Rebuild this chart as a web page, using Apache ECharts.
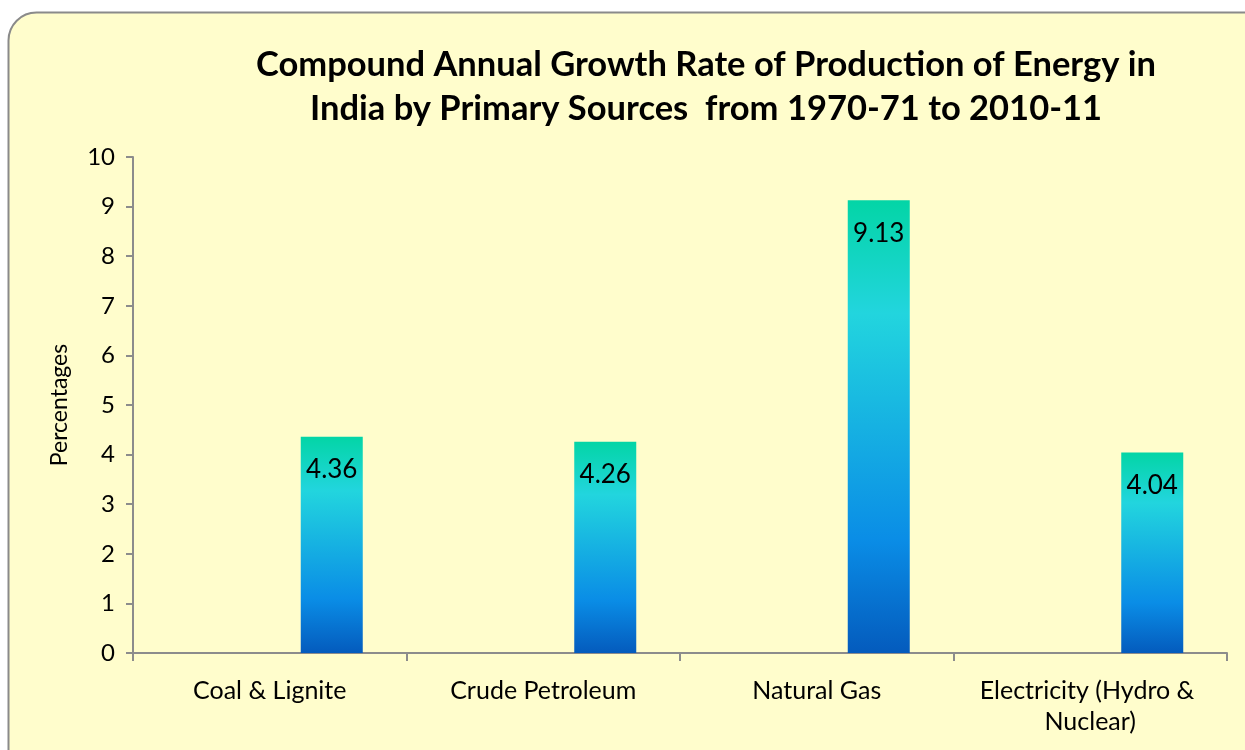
<!DOCTYPE html>
<html>
<head>
<meta charset="utf-8">
<script src="https://cdn.jsdelivr.net/npm/echarts@6/dist/echarts.min.js"></script>
<style>
  html, body { margin: 0; padding: 0; background: #fff; }
  #main { width: 1245px; height: 750px; }
</style>
</head>
<body>
<div id="main"></div>
<script>
var categories = ['Coal & Lignite', 'Crude Petroleum', 'Natural Gas', 'Electricity (Hydro & Nuclear)'];
var growthRates = [4.36, 4.26, 9.13, 4.04];
var emptySlots = [null, null, null, null];
var yTicks = { min: 0, max: 10, interval: 1 };

var chart = echarts.init(document.getElementById('main'));
var font = 'Lato, "Open Sans", sans-serif';
var axisGray = '#8c8c8c';

var barColor = new echarts.graphic.LinearGradient(0, 0, 0, 1, [
  { offset: 0, color: '#03d5a6' },
  { offset: 0.25, color: '#22d5de' },
  { offset: 0.75, color: '#0a8de6' },
  { offset: 1, color: '#045bbd' }
]);

var option = {
  backgroundColor: '#ffffff',
  textStyle: { fontFamily: font },
  graphic: [{
    type: 'rect',
    z: -10,
    silent: true,
    shape: { x: 8.5, y: 12.5, width: 1300, height: 800, r: 28 },
    style: { fill: '#fffdcc', stroke: '#8a8a8a', lineWidth: 2 }
  }],
  title: {
    text: 'Compound Annual Growth Rate of Production of Energy in\nIndia by Primary Sources  from 1970-71 to 2010-11',
    left: 701,
    top: 38,
    textAlign: 'center',
    textStyle: { fontFamily: font, fontWeight: 'bold', fontSize: 34.5, lineHeight: 44, color: '#000' }
  },
  grid: { left: 133, right: 18, top: 157, bottom: 97 },
  xAxis: {
    type: 'category',
    data: categories,
    axisLine: { lineStyle: { color: axisGray, width: 2 } },
    axisTick: { show: true, length: 8, lineStyle: { color: axisGray, width: 2 } },
    axisLabel: {
      color: '#000', fontSize: 25, margin: 22, lineHeight: 31,
      width: 250, overflow: 'break', interval: 0
    }
  },
  yAxis: {
    type: 'value',
    min: yTicks.min,
    max: yTicks.max,
    interval: yTicks.interval,
    name: 'Percentages',
    nameLocation: 'middle',
    nameGap: 62,
    nameRotate: 90,
    nameTextStyle: { color: '#000', fontSize: 23 },
    axisLine: { show: true, lineStyle: { color: axisGray, width: 2 } },
    axisTick: { show: true, length: 7, lineStyle: { color: axisGray, width: 2 } },
    axisLabel: { color: '#000', fontSize: 24, margin: 18 },
    splitLine: { show: false }
  },
  series: [
    { type: 'bar', data: emptySlots, barWidth: 62, barGap: 0, silent: true },
    { type: 'bar', data: emptySlots, barWidth: 62, barGap: 0, silent: true },
    {
      type: 'bar',
      name: 'CAGR',
      data: growthRates,
      barWidth: 62,
      barGap: 0,
      itemStyle: { color: barColor },
      label: {
        show: true,
        position: 'insideTop',
        distance: 20,
        color: '#000',
        fontSize: 26,
        formatter: function (p) { return p.value.toFixed(2); }
      }
    }
  ]
};

chart.setOption(option);
</script>
</body>
</html>
